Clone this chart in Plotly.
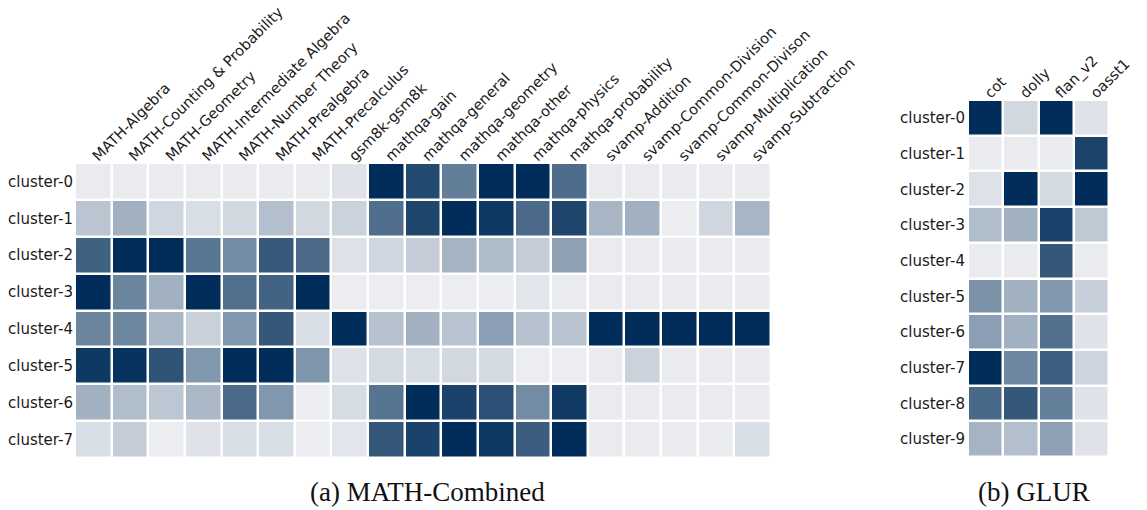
import plotly.graph_objects as go

# ---- data: (a) MATH-Combined ----
math_cols = ["MATH-Algebra", "MATH-Counting & Probability", "MATH-Geometry",
             "MATH-Intermediate Algebra", "MATH-Number Theory", "MATH-Prealgebra",
             "MATH-Precalculus", "gsm8k-gsm8k", "mathqa-gain", "mathqa-general",
             "mathqa-geometry", "mathqa-other", "mathqa-physics", "mathqa-probability",
             "svamp-Addition", "svamp-Common-Division", "svamp-Common-Divison",
             "svamp-Multiplication", "svamp-Subtraction"]
math_rows = ["cluster-%d" % i for i in range(8)]
math_vals = [
    [0.01, 0.01, 0.01, 0.01, 0.01, 0.01, 0.01, 0.05, 1.00, 0.85, 0.58, 1.00, 1.00, 0.67, 0.01, 0.01, 0.01, 0.01, 0.01],
    [0.21, 0.31, 0.12, 0.08, 0.11, 0.24, 0.11, 0.14, 0.66, 0.87, 1.00, 0.94, 0.68, 0.87, 0.29, 0.31, 0.00, 0.12, 0.29],
    [0.73, 1.00, 1.00, 0.62, 0.51, 0.77, 0.68, 0.06, 0.12, 0.17, 0.30, 0.26, 0.17, 0.40, 0.01, 0.01, 0.01, 0.01, 0.01],
    [1.00, 0.54, 0.31, 1.00, 0.65, 0.72, 1.00, 0.00, 0.00, 0.00, 0.00, 0.00, 0.04, 0.01, 0.01, 0.01, 0.01, 0.01, 0.01],
    [0.54, 0.53, 0.28, 0.15, 0.45, 0.78, 0.08, 1.00, 0.23, 0.31, 0.22, 0.41, 0.23, 0.22, 1.00, 1.00, 1.00, 1.00, 1.00],
    [0.94, 0.97, 0.80, 0.45, 1.00, 1.00, 0.46, 0.06, 0.10, 0.09, 0.11, 0.10, 0.00, 0.00, 0.01, 0.14, 0.01, 0.01, 0.01],
    [0.31, 0.25, 0.20, 0.28, 0.68, 0.45, 0.00, 0.09, 0.63, 1.00, 0.89, 0.81, 0.51, 0.93, 0.01, 0.01, 0.01, 0.01, 0.01],
    [0.08, 0.17, 0.00, 0.05, 0.08, 0.08, 0.00, 0.04, 0.78, 0.89, 1.00, 0.94, 0.75, 1.00, 0.01, 0.01, 0.01, 0.01, 0.08],
]

# ---- data: (b) GLUR ----
glur_cols = ["cot", "dolly", "flan_v2", "oasst1"]
glur_rows = ["cluster-%d" % i for i in range(10)]
glur_vals = [
    [1.00, 0.11, 1.00, 0.05],
    [0.01, 0.01, 0.01, 0.88],
    [0.06, 1.00, 0.10, 1.00],
    [0.25, 0.31, 0.89, 0.19],
    [0.01, 0.01, 0.78, 0.01],
    [0.48, 0.31, 0.45, 0.16],
    [0.41, 0.31, 0.65, 0.05],
    [1.00, 0.53, 0.74, 0.13],
    [0.69, 0.78, 0.57, 0.05],
    [0.30, 0.24, 0.40, 0.05],
]

captions = ["(a) MATH-Combined", "(b) GLUR"]

colorscale = [[0.0, "#ebedf1"], [1.0, "#002d59"]]

W, H = 1147, 510

def px_x(a, b):
    return [a / W, b / W]

def px_y(top, bottom):
    return [1 - bottom / H, 1 - top / H]

fig = go.Figure()
fig.add_trace(go.Heatmap(z=math_vals, x=math_cols, y=math_rows, colorscale=colorscale,
                         zmin=0, zmax=1, showscale=False, xgap=2.5, ygap=2.5,
                         xaxis="x", yaxis="y"))
fig.add_trace(go.Heatmap(z=glur_vals, x=glur_cols, y=glur_rows, colorscale=colorscale,
                         zmin=0, zmax=1, showscale=False, xgap=2.5, ygap=2.5,
                         xaxis="x2", yaxis="y2"))

tickfont = dict(family="DejaVu Sans", size=15, color="#1a1a1a")
xtickfont = dict(family="DejaVu Sans", size=14.6, color="#1a1a1a")
common = dict(showgrid=False, zeroline=False, showline=False, ticks="", automargin=False)

fig.update_layout(
    template="none",
    width=W, height=H, autosize=False,
    margin=dict(l=0, r=0, t=0, b=0, pad=0),
    paper_bgcolor="white", plot_bgcolor="white",
    xaxis=dict(domain=px_x(75, 771), side="top", tickangle=-45, anchor="y",
               ticklabelstandoff=-5, tickfont=xtickfont, **common),
    yaxis=dict(domain=px_y(163, 458), autorange="reversed", anchor="x",
               ticklabelstandoff=1, tickfont=tickfont, **common),
    xaxis2=dict(domain=px_x(968, 1109), side="top", tickangle=-45, anchor="y2",
                ticklabelstandoff=-5, tickfont=xtickfont, **common),
    yaxis2=dict(domain=px_y(100, 457), autorange="reversed", anchor="x2",
                ticklabelstandoff=2, tickfont=tickfont, **common),
    annotations=[
        dict(text=captions[0], x=427 / W, y=1 - 492 / H, xref="paper", yref="paper",
             showarrow=False, xanchor="center", yanchor="middle",
             font=dict(family="Liberation Serif", size=27, color="#111")),
        dict(text=captions[1], x=1034 / W, y=1 - 492 / H, xref="paper", yref="paper",
             showarrow=False, xanchor="center", yanchor="middle",
             font=dict(family="Liberation Serif", size=27, color="#111")),
    ],
)

fig.write_html(
    "out.html",
    config={"displayModeBar": False},
    post_script="document.body.style.margin='0px'; document.body.style.overflow='hidden';",
)
